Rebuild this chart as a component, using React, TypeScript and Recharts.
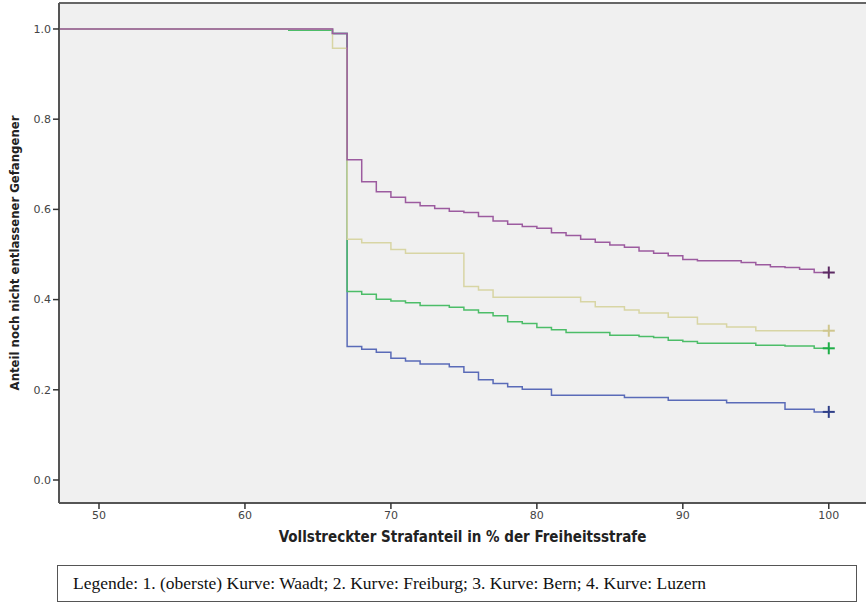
import React from "react";
import {
  LineChart,
  Line,
  XAxis,
  YAxis,
  CartesianGrid,
  ReferenceLine,
} from "recharts";

// x = vollstreckter Strafanteil (%), y = Anteil noch nicht entlassener Gefangener
const waadtX = [47, 66, 67, 68, 69, 70, 71, 72, 73, 74, 75, 76, 77, 78, 79, 80, 81, 82, 83, 84, 85, 86, 87, 88, 89, 90, 91, 94, 95, 96, 97, 98, 99, 100];
const waadtY = [1.0, 0.99, 0.71, 0.661, 0.639, 0.627, 0.615, 0.608, 0.602, 0.596, 0.593, 0.584, 0.574, 0.567, 0.562, 0.558, 0.548, 0.542, 0.534, 0.527, 0.521, 0.516, 0.508, 0.503, 0.497, 0.489, 0.486, 0.482, 0.477, 0.473, 0.471, 0.467, 0.46, 0.46];

const freiburgX = [47, 66, 67, 68, 70, 71, 75, 76, 77, 83, 84, 86, 87, 89, 91, 93, 95, 100];
const freiburgY = [1.0, 0.957, 0.534, 0.526, 0.511, 0.503, 0.429, 0.421, 0.405, 0.395, 0.384, 0.377, 0.37, 0.361, 0.346, 0.339, 0.331, 0.331];

const bernX = [47, 63, 66, 67, 68, 69, 70, 71, 72, 74, 75, 76, 77, 78, 79, 80, 81, 82, 85, 87, 88, 89, 90, 91, 95, 97, 99, 100];
const bernY = [1.0, 0.997, 0.99, 0.418, 0.412, 0.401, 0.397, 0.393, 0.387, 0.383, 0.377, 0.371, 0.364, 0.351, 0.347, 0.338, 0.333, 0.327, 0.321, 0.318, 0.316, 0.31, 0.307, 0.303, 0.299, 0.297, 0.292, 0.292];

const luzernX = [47, 66, 67, 68, 69, 70, 71, 72, 74, 75, 76, 77, 78, 79, 81, 86, 89, 93, 97, 99, 100];
const luzernY = [1.0, 0.99, 0.296, 0.29, 0.283, 0.27, 0.264, 0.257, 0.251, 0.239, 0.222, 0.214, 0.207, 0.201, 0.188, 0.183, 0.177, 0.171, 0.157, 0.151, 0.151];

const xTicks = [50, 60, 70, 80, 90, 100];
const yTicks = [0, 0.2, 0.4, 0.6, 0.8, 1.0];
const xDomain = [47.26, 102.55];
const yDomain = [-0.051, 1.0576];

const toRows = (xs: number[], ys: number[]) => xs.map((x, i) => ({ x, y: ys[i] }));

const series = [
  { name: "Luzern", data: toRows(luzernX, luzernY), color: "#5a6bb8", mark: "#2f3f88" },
  { name: "Bern", data: toRows(bernX, bernY), color: "#4cbd68", mark: "#1fae48" },
  { name: "Freiburg", data: toRows(freiburgX, freiburgY), color: "#d8d5a4", mark: "#cfc68e" },
  { name: "Waadt", data: toRows(waadtX, waadtY), color: "#9c5b9f", mark: "#5c2a63" },
];

const endMark = (color: string, last: number) => (props: any) => {
  const { cx, cy, index } = props;
  if (index !== last) return <g key={`d-${index}`} />;
  return (
    <g key={`d-${index}`}>
      <line x1={cx - 6} y1={cy} x2={cx + 6} y2={cy} stroke={color} strokeWidth={2} />
      <line x1={cx} y1={cy - 6} x2={cx} y2={cy + 6} stroke={color} strokeWidth={2} />
    </g>
  );
};

const tickStyle = { fontSize: 11, fill: "#444", fontFamily: "DejaVu Sans" };
const titleFont = "'DejaVu Sans Condensed', 'DejaVu Sans', sans-serif";

export default function App() {
  return (
    <div style={{ position: "absolute", left: 0, top: 0, width: 866, height: 604, background: "#fff" }}>
      <LineChart width={866} height={604} margin={{ top: 3, right: 0, left: 0, bottom: 71 }}>
        <CartesianGrid horizontal={false} vertical={false} fill="#f0f0f0" />
        <XAxis
          type="number"
          dataKey="x"
          domain={xDomain}
          ticks={xTicks}
          allowDataOverflow
          height={30}
          tick={tickStyle}
          tickSize={6}
          tickMargin={2}
          axisLine={{ stroke: "#555", strokeWidth: 2 }}
          tickLine={{ stroke: "#333", strokeWidth: 1.5 }}
          label={{
            content: (p: any) => (
              <text
                x={p.viewBox.x + p.viewBox.width / 2}
                y={542}
                textAnchor="middle"
                fontFamily={titleFont}
                fontWeight="bold"
                fontSize={15}
                fill="#222"
              >
                Vollstreckter Strafanteil in % der Freiheitsstrafe
              </text>
            ),
          }}
        />
        <YAxis
          type="number"
          dataKey="y"
          domain={yDomain}
          ticks={yTicks}
          allowDataOverflow
          width={59}
          tick={tickStyle}
          tickSize={6}
          tickMargin={2}
          tickFormatter={(v) => v.toFixed(1)}
          axisLine={{ stroke: "#555", strokeWidth: 2 }}
          tickLine={{ stroke: "#333", strokeWidth: 1.5 }}
          label={{
            content: (p: any) => {
              const cy = p.viewBox.y + p.viewBox.height / 2;
              return (
                <text
                  x={14}
                  y={cy}
                  transform={`rotate(-90, 14, ${cy})`}
                  textAnchor="middle"
                  dominantBaseline="central"
                  fontFamily={titleFont}
                  fontWeight="bold"
                  fontSize={13}
                  fill="#222"
                >
                  Anteil noch nicht entlassener Gefangener
                </text>
              );
            },
          }}
        />
        <ReferenceLine y={yDomain[1]} stroke="#666" strokeWidth={2} />
        {series.map((s) => (
          <Line
            key={s.name}
            data={s.data}
            dataKey="y"
            type="stepAfter"
            stroke={s.color}
            strokeWidth={1.5}
            dot={endMark(s.mark, s.data.length - 1)}
            activeDot={false}
            isAnimationActive={false}
          />
        ))}
      </LineChart>
      <div
        style={{
          position: "absolute",
          left: 57,
          top: 565,
          width: 800,
          height: 37,
          border: "1px solid #555",
          fontFamily: "'Liberation Serif', 'Times New Roman', serif",
          fontSize: 17.5,
          lineHeight: "35px",
          paddingLeft: 15,
          boxSizing: "border-box",
          color: "#111",
        }}
      >
        Legende: 1. (oberste) Kurve: Waadt; 2. Kurve: Freiburg; 3. Kurve: Bern; 4. Kurve: Luzern
      </div>
    </div>
  );
}
